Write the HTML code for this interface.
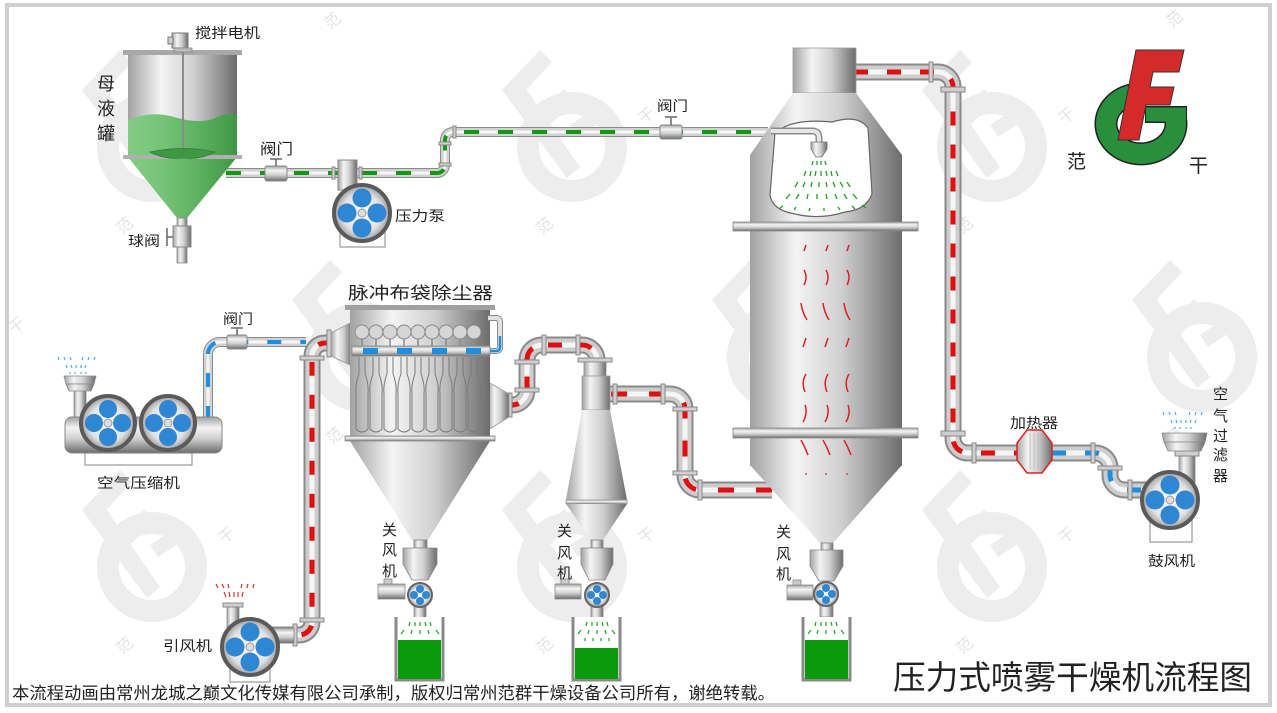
<!DOCTYPE html>
<html><head><meta charset="utf-8"><style>
html,body{margin:0;padding:0;background:#fff;}
svg{display:block;}
text{font-family:"Liberation Sans","Noto Sans CJK SC",sans-serif;fill:#222;}
text.w{fill:#e4e4e4;font-size:16px;}
.po{fill:none;stroke:#8a8a8a;stroke-width:17}
.pm{fill:none;stroke:#cdcdcd;stroke-width:13}
.ph{fill:none;stroke:#f6f6f6;stroke-width:5}
.to{fill:none;stroke:#8a8a8a;stroke-width:10}
.tm{fill:none;stroke:#d2d2d2;stroke-width:8}
.th{fill:none;stroke:#f7f7f7;stroke-width:3}
.fl{fill:#cfcfcf;stroke:#888;stroke-width:1}
</style></head><body>
<svg width="1277" height="713" viewBox="0 0 1277 713" xmlns="http://www.w3.org/2000/svg">
<defs>
<linearGradient id="vH" x1="0" y1="0" x2="1" y2="0">
<stop offset="0" stop-color="#a2a2a2"/><stop offset="0.3" stop-color="#f4f4f4"/><stop offset="0.6" stop-color="#d0d0d0"/><stop offset="1" stop-color="#6c6c6c"/>
</linearGradient>
<linearGradient id="hV" x1="0" y1="0" x2="0" y2="1">
<stop offset="0" stop-color="#a2a2a2"/><stop offset="0.3" stop-color="#f4f4f4"/><stop offset="0.6" stop-color="#d0d0d0"/><stop offset="1" stop-color="#6c6c6c"/>
</linearGradient>
<radialGradient id="fanG" cx="0.5" cy="0.5" r="0.5">
<stop offset="0" stop-color="#ffffff"/><stop offset="0.7" stop-color="#e2e2e2"/><stop offset="1" stop-color="#9a9a9a"/>
</radialGradient>
<linearGradient id="liq" x1="0" y1="0" x2="1" y2="0">
<stop offset="0" stop-color="#80d080"/><stop offset="1" stop-color="#3c9c42"/>
</linearGradient>
<g id="wm">
<circle cx="0" cy="0" r="44" fill="none" stroke="#ededed" stroke-width="22"/>
<g fill="#ededed">
<polygon points="-70,-57 -32,-97 -20,-85 -57,-45"/>
<polygon points="-70,-57 -52,-67 8,20 -5,31"/>
<polygon points="-42,-24 -8,-58 3,-47 -31,-13"/>
<polygon points="-2,-22 28,-42 36,-30 6,-10"/>
</g>
</g>
<path id="pA" d="M854,72 H938 A15,15 0 0 1 953,87 V438 A15,15 0 0 0 968,453 H1017"/>
<path id="pBl" d="M1052,453 H1095 A15,15 0 0 1 1110,468 V475 A15,15 0 0 0 1125,490 H1148"/>
<path id="pB" d="M772,490 H700 A15,15 0 0 1 685,475 V409 A15,15 0 0 0 670,394 H609"/>
<path id="pC" d="M505,405 H512 A15,15 0 0 0 527,390 V360 A15,15 0 0 1 542,345 H582 A15,15 0 0 1 597,360 V366"/>
<path id="pD" d="M332,343 H325 A13,13 0 0 0 312,356 V622 A13,13 0 0 1 299,635 H268"/>
<path id="pAir" d="M208,420 V354 A12,12 0 0 1 220,342 H306"/>
<path id="pG" d="M226,173 H437 A8,8 0 0 0 445,165 V140 A8,8 0 0 1 453,132 H768"/>
</defs>

<!-- watermarks -->
<use href="#wm" transform="translate(152,147)"/>
<use href="#wm" transform="translate(572,147)"/>
<use href="#wm" transform="translate(992,147)"/>
<use href="#wm" transform="translate(-58,357)"/>
<use href="#wm" transform="translate(362,357)"/>
<use href="#wm" transform="translate(782,357)"/>
<use href="#wm" transform="translate(1202,357)"/>
<use href="#wm" transform="translate(152,567)"/>
<use href="#wm" transform="translate(572,567)"/>
<use href="#wm" transform="translate(992,567)"/>
<text class="w" transform="translate(122,235) rotate(-40)">范</text>
<text class="w" transform="translate(224,125) rotate(-40)">干</text>
<text class="w" transform="translate(542,235) rotate(-40)">范</text>
<text class="w" transform="translate(644,125) rotate(-40)">干</text>
<text class="w" transform="translate(962,235) rotate(-40)">范</text>
<text class="w" transform="translate(1064,125) rotate(-40)">干</text>
<text class="w" transform="translate(14,335) rotate(-40)">干</text>
<text class="w" transform="translate(332,445) rotate(-40)">范</text>
<text class="w" transform="translate(434,335) rotate(-40)">干</text>
<text class="w" transform="translate(752,445) rotate(-40)">范</text>
<text class="w" transform="translate(854,335) rotate(-40)">干</text>
<text class="w" transform="translate(1172,445) rotate(-40)">范</text>
<text class="w" transform="translate(122,655) rotate(-40)">范</text>
<text class="w" transform="translate(224,545) rotate(-40)">干</text>
<text class="w" transform="translate(542,655) rotate(-40)">范</text>
<text class="w" transform="translate(644,545) rotate(-40)">干</text>
<text class="w" transform="translate(962,655) rotate(-40)">范</text>
<text class="w" transform="translate(1064,545) rotate(-40)">干</text>
<text class="w" transform="translate(330,30) rotate(-40)">范</text>
<text class="w" transform="translate(1172,28) rotate(-40)">范</text>

<!-- frame -->
<rect x="7" y="5" width="1263" height="700" fill="none" stroke="#d0d0d0" stroke-width="4"/>

<!-- ===== PIPES ===== -->
<use href="#pA" class="po"/><use href="#pA" class="pm"/><use href="#pA" class="ph"/>
<use href="#pA" fill="none" stroke="#e01010" stroke-width="5" stroke-dasharray="14 19"/>
<use href="#pBl" class="po"/><use href="#pBl" class="pm"/><use href="#pBl" class="ph"/>
<use href="#pBl" fill="none" stroke="#1e8ee0" stroke-width="5" stroke-dasharray="14 19"/>
<use href="#pB" class="po"/><use href="#pB" class="pm"/><use href="#pB" class="ph"/>
<use href="#pB" fill="none" stroke="#e01010" stroke-width="5" stroke-dasharray="16 22"/>
<use href="#pC" class="po"/><use href="#pC" class="pm"/><use href="#pC" class="ph"/>
<use href="#pC" fill="none" stroke="#e01010" stroke-width="5" stroke-dasharray="14 16"/>
<use href="#pAir" class="to"/><use href="#pAir" class="tm"/><use href="#pAir" class="th"/>
<use href="#pAir" fill="none" stroke="#1e8ee0" stroke-width="4" stroke-dasharray="14 19"/>
<use href="#pD" class="po"/><use href="#pD" class="pm"/><use href="#pD" class="ph"/>
<use href="#pD" fill="none" stroke="#e01010" stroke-width="5" stroke-dasharray="14 19"/>
<use href="#pG" class="to"/><use href="#pG" class="tm"/><use href="#pG" class="th"/>
<use href="#pG" fill="none" stroke="#119911" stroke-width="4" stroke-dasharray="15 19"/>

<!-- flanges -->
<rect class="fl" x="929" y="62" width="4" height="20"/>
<rect class="fl" x="941" y="87" width="24" height="5"/>
<rect class="fl" x="941" y="431" width="24" height="5"/>
<rect class="fl" x="972" y="443" width="4" height="20"/>
<rect class="fl" x="1091" y="443" width="4" height="20"/>
<rect class="fl" x="1098" y="466" width="24" height="4"/>
<rect class="fl" x="1128" y="480" width="4" height="20"/>
<rect class="fl" x="698" y="480" width="4" height="20"/>
<rect class="fl" x="673" y="471" width="24" height="4"/>
<rect class="fl" x="673" y="407" width="24" height="4"/>
<rect class="fl" x="661" y="384" width="4" height="20"/>
<rect class="fl" x="613" y="384" width="4" height="20"/>
<rect class="fl" x="508" y="393" width="4" height="24"/>
<rect class="fl" x="515" y="388" width="24" height="4"/>
<rect class="fl" x="515" y="360" width="24" height="4"/>
<rect class="fl" x="542" y="335" width="4" height="20"/>
<rect class="fl" x="576" y="335" width="4" height="20"/>
<rect class="fl" x="327" y="330" width="4" height="27"/>
<rect class="fl" x="300" y="356" width="24" height="4"/>
<rect class="fl" x="300" y="618" width="24" height="4"/>
<rect class="fl" x="293" y="624" width="4" height="22"/>
<rect class="fl" x="439" y="142" width="12" height="3"/>
<rect class="fl" x="439" y="163" width="12" height="3"/>
<rect class="fl" x="453" y="126" width="3" height="12"/>

<!-- ===== MOTHER LIQUOR TANK ===== -->
<rect x="128" y="53" width="109" height="104" fill="url(#vH)"/>
<polygon points="128,157 237,157 187,218 177,218" fill="url(#vH)"/>
<path d="M128,120 Q150,111 170,116 Q200,125 215,118 Q228,112 237,115 L237,157 L187,218 L177,218 L128,157 Z" fill="url(#liq)" opacity="0.92"/>
<rect x="123" y="50" width="119" height="5" fill="#a8a8a8"/>
<rect x="123" y="155" width="119" height="4" fill="#b0b0b0"/>
<rect x="172" y="33" width="16" height="15" fill="url(#vH)" stroke="#777" stroke-width="1"/>
<rect x="168" y="37" width="5" height="7" fill="#ccc" stroke="#777" stroke-width="1"/>
<rect x="174" y="48" width="18" height="4" fill="#bbb" stroke="#888" stroke-width="0.8"/>
<line x1="183" y1="52" x2="183" y2="157" stroke="#8a8a8a" stroke-width="2"/>
<path d="M150,152 Q183,145 215,152 Q200,160 183,158 Q165,160 150,152 Z" fill="#3d9a42" stroke="#2d7a32" stroke-width="0.8"/>
<rect x="177" y="218" width="10" height="45" fill="url(#vH)" stroke="#888" stroke-width="0.8"/>
<rect x="173" y="226" width="18" height="21" fill="url(#vH)" stroke="#888" stroke-width="1"/>
<line x1="167" y1="228" x2="167" y2="246" stroke="#666" stroke-width="1.5"/>
<line x1="167" y1="237" x2="173" y2="237" stroke="#666" stroke-width="1.5"/>

<!-- valve on lower green pipe -->
<rect x="265" y="166" width="22" height="15" fill="url(#hV)" stroke="#888" stroke-width="1" rx="2"/>
<line x1="276" y1="166" x2="276" y2="159" stroke="#666" stroke-width="1.5"/>
<line x1="270" y1="159" x2="282" y2="159" stroke="#666" stroke-width="1.5"/>

<!-- pressure pump -->
<rect x="340" y="225" width="45" height="22" fill="#fff" stroke="#999" stroke-width="1.2"/>
<rect x="338" y="160" width="19" height="30" fill="url(#vH)" stroke="#888" stroke-width="1"/>
<rect class="fl" x="332" y="167" width="3" height="12"/>
<rect class="fl" x="359" y="167" width="3" height="12"/>
<circle cx="362" cy="213" r="28" fill="url(#fanG)" stroke="#5a5a5a" stroke-width="4"/>
<circle cx="362" cy="198" r="9.5" fill="#2f87d3"/><circle cx="377" cy="213" r="9.5" fill="#2f87d3"/>
<circle cx="362" cy="228" r="9.5" fill="#2f87d3"/><circle cx="347" cy="213" r="9.5" fill="#2f87d3"/>
<circle cx="362" cy="213" r="4" fill="#ddd" stroke="#999" stroke-width="1"/>

<!-- valve on upper green pipe -->
<rect x="660" y="125" width="22" height="14" fill="url(#hV)" stroke="#888" stroke-width="1" rx="2"/>
<line x1="671" y1="125" x2="671" y2="118" stroke="#666" stroke-width="1.5"/>
<line x1="665" y1="117" x2="677" y2="117" stroke="#666" stroke-width="1.5"/>

<!-- ===== SPRAY TOWER ===== -->
<rect x="793" y="48" width="63" height="45" fill="url(#vH)" stroke="#999" stroke-width="0.8"/>
<polygon points="793,93 856,93 902,155 750,155" fill="url(#vH)"/>
<rect x="750" y="155" width="152" height="69" fill="url(#vH)"/>
<rect x="750" y="231" width="152" height="199" fill="url(#vH)"/>
<rect x="750" y="437" width="152" height="29" fill="url(#vH)"/>
<polygon points="750,465 902,465 833,543 820,543" fill="url(#vH)"/>
<rect x="733" y="222" width="185" height="9" fill="url(#hV)" stroke="#888" stroke-width="0.8"/>
<rect x="733" y="428" width="185" height="10" fill="url(#hV)" stroke="#888" stroke-width="0.8"/>
<path d="M775,133 Q792,118 832,122 Q858,114 868,128 L872,194 Q866,210 845,212 Q820,220 795,214 Q772,210 770,195 Z" fill="#fff" stroke="#666" stroke-width="1.2"/>
<path d="M771,131 H812 Q819,131 819,138 V142" fill="none" stroke="#8a8a8a" stroke-width="7"/>
<path d="M771,131 H812 Q819,131 819,138 V142" fill="none" stroke="#e6e6e6" stroke-width="4"/>
<polygon points="811,142 827,142 827,149 822,157 816,157 811,149" fill="url(#vH)" stroke="#777" stroke-width="0.8"/>
<g stroke="#22a022" stroke-width="1.3">
<line x1="813" y1="161" x2="812" y2="165"/><line x1="817" y1="161" x2="817" y2="165"/><line x1="821" y1="161" x2="821" y2="165"/><line x1="825" y1="161" x2="826" y2="165"/>
<line x1="806" y1="171" x2="804" y2="176"/><line x1="811" y1="171" x2="810" y2="176"/><line x1="816" y1="171" x2="815" y2="176"/><line x1="821" y1="171" x2="821" y2="176"/><line x1="826" y1="171" x2="827" y2="176"/><line x1="831" y1="171" x2="832" y2="176"/><line x1="836" y1="171" x2="838" y2="176"/>
<line x1="798" y1="182" x2="795" y2="187"/><line x1="805" y1="182" x2="803" y2="187"/><line x1="812" y1="182" x2="811" y2="187"/><line x1="819" y1="182" x2="819" y2="187"/><line x1="826" y1="182" x2="827" y2="187"/><line x1="833" y1="182" x2="835" y2="187"/><line x1="840" y1="182" x2="843" y2="187"/><line x1="847" y1="182" x2="850" y2="187"/>
<line x1="790" y1="194" x2="786" y2="199"/><line x1="799" y1="194" x2="796" y2="199"/><line x1="808" y1="194" x2="807" y2="199"/><line x1="817" y1="194" x2="817" y2="199"/><line x1="826" y1="194" x2="827" y2="199"/><line x1="835" y1="194" x2="837" y2="199"/><line x1="844" y1="194" x2="847" y2="199"/><line x1="853" y1="194" x2="857" y2="199"/>
<line x1="783" y1="206" x2="779" y2="209"/><line x1="796" y1="207" x2="794" y2="210"/><line x1="810" y1="208" x2="809" y2="211"/><line x1="824" y1="208" x2="824" y2="211"/><line x1="838" y1="207" x2="840" y2="210"/><line x1="852" y1="206" x2="855" y2="209"/><line x1="862" y1="205" x2="866" y2="208"/>
</g>
<g fill="none" stroke="#e02020" stroke-width="1.5">
<path d="M804,251 L806,245"/><path d="M826,251 L828,245"/><path d="M847,251 L849,245"/>
<path d="M804,270 Q808,277 804,285"/><path d="M826,270 Q830,277 826,285"/><path d="M847,270 Q851,277 847,285"/>
<path d="M801,303 Q802,312 807,320"/><path d="M823,303 Q824,312 829,320"/><path d="M844,303 Q845,312 850,320"/>
<path d="M803,347 L806,338"/><path d="M825,347 L828,338"/><path d="M846,347 L849,338"/>
<path d="M806,374 Q801,382 805,392"/><path d="M828,374 Q823,382 827,392"/><path d="M849,374 Q844,382 848,392"/>
<path d="M805,405 Q808,413 803,422"/><path d="M827,405 Q830,413 825,422"/><path d="M848,405 Q851,413 846,422"/>
<path d="M801,440 Q805,447 808,455"/><path d="M823,440 Q827,447 830,455"/><path d="M844,440 Q848,447 851,455"/>
</g>
<g fill="#e02020"><circle cx="806" cy="474" r="0.9"/><circle cx="826" cy="474" r="0.9"/><circle cx="847" cy="474" r="0.9"/></g>

<!-- tower rotary valve -->
<rect x="821" y="543" width="12" height="7" fill="url(#vH)" stroke="#888" stroke-width="0.8"/>
<path d="M810,550 H843 V566 L834,581 H819 L810,566 Z" fill="url(#vH)" stroke="#888" stroke-width="0.8"/>
<rect x="787" y="585" width="26" height="15" fill="url(#hV)" stroke="#888" stroke-width="0.8"/>
<rect x="793" y="580" width="8" height="5" fill="#ccc" stroke="#888" stroke-width="0.8"/>
<rect x="820" y="605" width="13" height="12" fill="url(#vH)" stroke="#888" stroke-width="0.8"/>
<circle cx="826" cy="594" r="12" fill="url(#fanG)" stroke="#666" stroke-width="2"/>
<circle cx="826" cy="588" r="4" fill="#2f87d3"/><circle cx="832" cy="594" r="4" fill="#2f87d3"/><circle cx="826" cy="600" r="4" fill="#2f87d3"/><circle cx="820" cy="594" r="4" fill="#2f87d3"/>
<circle cx="826" cy="594" r="1.6" fill="#fff"/>
<path d="M803,617 V680 H850 V617" fill="#fff" stroke="#8a8a8a" stroke-width="3"/>
<rect x="805" y="640" width="43" height="39" fill="#0b9a0b"/>
<g stroke="#22a022" stroke-width="1.2"><line x1="816" y1="622" x2="815" y2="626"/><line x1="821" y1="622" x2="821" y2="626"/><line x1="826" y1="622" x2="826" y2="626"/><line x1="831" y1="622" x2="832" y2="626"/><line x1="836" y1="622" x2="837" y2="626"/>
<line x1="811" y1="630" x2="808" y2="634"/><line x1="818" y1="630" x2="817" y2="634"/><line x1="826" y1="630" x2="826" y2="634"/><line x1="834" y1="630" x2="835" y2="634"/><line x1="841" y1="630" x2="844" y2="634"/></g>

<!-- ===== CYCLONE ===== -->
<rect x="578" y="358" width="34" height="4" class="fl"/>
<rect x="584" y="362" width="22" height="15" fill="url(#vH)" stroke="#888" stroke-width="0.8"/>
<rect x="582" y="376" width="28" height="34" fill="url(#vH)" stroke="#999" stroke-width="0.8"/>
<polygon points="582,410 610,410 627,500 566,500" fill="url(#vH)"/>
<rect x="566" y="500" width="61" height="4" fill="url(#hV)" stroke="#999" stroke-width="0.8"/>
<polygon points="566,504 627,504 603,540 591,540" fill="url(#vH)"/>
<rect x="591" y="540" width="12" height="8" fill="url(#vH)" stroke="#888" stroke-width="0.8"/>
<path d="M581,548 H613 V564 L605,580 H589 L581,564 Z" fill="url(#vH)" stroke="#888" stroke-width="0.8"/>
<rect x="555" y="584" width="26" height="15" fill="url(#hV)" stroke="#888" stroke-width="0.8"/>
<rect x="561" y="579" width="8" height="5" fill="#ccc" stroke="#888" stroke-width="0.8"/>
<rect x="591" y="606" width="12" height="12" fill="url(#vH)" stroke="#888" stroke-width="0.8"/>
<circle cx="597" cy="595" r="12" fill="url(#fanG)" stroke="#666" stroke-width="2"/>
<circle cx="597" cy="589" r="4" fill="#2f87d3"/><circle cx="603" cy="595" r="4" fill="#2f87d3"/><circle cx="597" cy="601" r="4" fill="#2f87d3"/><circle cx="591" cy="595" r="4" fill="#2f87d3"/>
<circle cx="597" cy="595" r="1.6" fill="#fff"/>
<path d="M573,617 V680 H620 V617" fill="#fff" stroke="#8a8a8a" stroke-width="3"/>
<rect x="575" y="648" width="43" height="31" fill="#0b9a0b"/>
<g stroke="#22a022" stroke-width="1.2"><line x1="587" y1="622" x2="586" y2="626"/><line x1="592" y1="622" x2="592" y2="626"/><line x1="597" y1="622" x2="597" y2="626"/><line x1="602" y1="622" x2="603" y2="626"/><line x1="607" y1="622" x2="608" y2="626"/>
<line x1="581" y1="630" x2="578" y2="634"/><line x1="589" y1="630" x2="588" y2="634"/><line x1="597" y1="630" x2="597" y2="634"/><line x1="605" y1="630" x2="606" y2="634"/><line x1="612" y1="630" x2="615" y2="634"/>
<line x1="585" y1="638" x2="585" y2="641"/><line x1="593" y1="638" x2="593" y2="641"/><line x1="601" y1="638" x2="601" y2="641"/><line x1="609" y1="638" x2="609" y2="641"/></g>

<!-- ===== PULSE BAG DUST COLLECTOR ===== -->
<polygon points="331,333 352,322 352,366 331,356" fill="url(#vH)" stroke="#999" stroke-width="0.8"/>
<polygon points="488,382 509,394 509,417 488,430" fill="url(#vH)" stroke="#999" stroke-width="0.8"/>
<rect x="350" y="309" width="140" height="129" fill="url(#vH)"/>
<rect x="345" y="305" width="150" height="5" fill="#a0a0a0"/>
<polygon points="350,441 490,441 428,540 412,540" fill="url(#vH)"/>
<rect x="345" y="436" width="150" height="5" fill="url(#hV)" stroke="#888" stroke-width="0.8"/>
<g fill="none" stroke="#7a7a7a" stroke-width="1">
<path d="M359,357 V374 Q355,384 356,394 V429 Q362,435 368,429 V394 Q369,384 365,374 V357"/>
<path d="M373,357 V374 Q369,384 370,394 V429 Q376,435 382,429 V394 Q383,384 379,374 V357"/>
<path d="M387,357 V374 Q383,384 384,394 V429 Q390,435 396,429 V394 Q397,384 393,374 V357"/>
<path d="M401,357 V374 Q397,384 398,394 V429 Q404,435 410,429 V394 Q411,384 407,374 V357"/>
<path d="M415,357 V374 Q411,384 412,394 V429 Q418,435 424,429 V394 Q425,384 421,374 V357"/>
<path d="M429,357 V374 Q425,384 426,394 V429 Q432,435 438,429 V394 Q439,384 435,374 V357"/>
<path d="M443,357 V374 Q439,384 440,394 V429 Q446,435 452,429 V394 Q453,384 449,374 V357"/>
<path d="M457,357 V374 Q453,384 454,394 V429 Q460,435 466,429 V394 Q467,384 463,374 V357"/>
<path d="M471,357 V374 Q467,384 468,394 V429 Q474,435 480,429 V394 Q481,384 477,374 V357"/>
</g>
<g stroke="#8a8a8a" stroke-width="1.5">
<line x1="362" y1="338" x2="362" y2="346"/><line x1="376" y1="338" x2="376" y2="346"/><line x1="390" y1="338" x2="390" y2="346"/><line x1="404" y1="338" x2="404" y2="346"/><line x1="418" y1="338" x2="418" y2="346"/><line x1="432" y1="338" x2="432" y2="346"/><line x1="446" y1="338" x2="446" y2="346"/><line x1="460" y1="338" x2="460" y2="346"/><line x1="474" y1="338" x2="474" y2="346"/>
</g>
<g fill="#d6d6d6" stroke="#888" stroke-width="1">
<circle cx="362" cy="332" r="7"/><circle cx="376" cy="332" r="7"/><circle cx="390" cy="332" r="7"/><circle cx="404" cy="332" r="7"/><circle cx="418" cy="332" r="7"/><circle cx="432" cy="332" r="7"/><circle cx="446" cy="332" r="7"/><circle cx="460" cy="332" r="7"/><circle cx="474" cy="332" r="7"/>
</g>
<path d="M488,351 H496 Q500,351 500,347 V322 Q500,318 496,318 H488" fill="none" stroke="#8a8a8a" stroke-width="6"/>
<path d="M488,351 H496 Q500,351 500,347 V322 Q500,318 496,318 H488" fill="none" stroke="#e2e2e2" stroke-width="4"/>
<path d="M490,351 H496 Q500,351 500,347 V336" fill="none" stroke="#1e8ee0" stroke-width="2.5"/>
<rect x="352" y="346" width="138" height="10" fill="url(#hV)" stroke="#888" stroke-width="0.8"/>
<g fill="#1e8ee0"><rect x="363" y="348" width="15" height="6"/><rect x="397" y="348" width="15" height="6"/><rect x="432" y="348" width="15" height="6"/><rect x="466" y="348" width="15" height="6"/></g>

<!-- dust collector rotary valve -->
<rect x="414" y="540" width="13" height="8" fill="url(#vH)" stroke="#888" stroke-width="0.8"/>
<path d="M403,548 H437 V564 L428,580 H412 L403,564 Z" fill="url(#vH)" stroke="#888" stroke-width="0.8"/>
<rect x="378" y="584" width="27" height="15" fill="url(#hV)" stroke="#888" stroke-width="0.8"/>
<rect x="384" y="579" width="8" height="5" fill="#ccc" stroke="#888" stroke-width="0.8"/>
<rect x="414" y="606" width="12" height="12" fill="url(#vH)" stroke="#888" stroke-width="0.8"/>
<circle cx="420" cy="595" r="12" fill="url(#fanG)" stroke="#666" stroke-width="2"/>
<circle cx="420" cy="589" r="4" fill="#2f87d3"/><circle cx="426" cy="595" r="4" fill="#2f87d3"/><circle cx="420" cy="601" r="4" fill="#2f87d3"/><circle cx="414" cy="595" r="4" fill="#2f87d3"/>
<circle cx="420" cy="595" r="1.6" fill="#fff"/>
<path d="M396,617 V680 H443 V617" fill="#fff" stroke="#8a8a8a" stroke-width="3"/>
<rect x="398" y="640" width="43" height="39" fill="#0b9a0b"/>
<g stroke="#22a022" stroke-width="1.2"><line x1="410" y1="622" x2="409" y2="626"/><line x1="415" y1="622" x2="415" y2="626"/><line x1="420" y1="622" x2="420" y2="626"/><line x1="425" y1="622" x2="426" y2="626"/><line x1="430" y1="622" x2="431" y2="626"/>
<line x1="404" y1="630" x2="401" y2="634"/><line x1="412" y1="630" x2="411" y2="634"/><line x1="420" y1="630" x2="420" y2="634"/><line x1="428" y1="630" x2="429" y2="634"/><line x1="436" y1="630" x2="439" y2="634"/></g>

<!-- ===== AIR COMPRESSOR ===== -->
<rect x="85" y="453" width="107" height="12" fill="#fff" stroke="#999" stroke-width="1.2"/>
<rect x="74" y="386" width="12" height="34" fill="url(#vH)" stroke="#888" stroke-width="0.8"/>
<rect x="65" y="417" width="157" height="36" rx="7" fill="url(#hV)" stroke="#888" stroke-width="1"/>
<path d="M64,376 H96 L94,384 H66 Z" fill="url(#vH)" stroke="#888" stroke-width="0.8"/>
<path d="M66,384 H94 L91,391 H69 Z" fill="url(#vH)" stroke="#888" stroke-width="0.8"/>
<g stroke="#4aa0e0" stroke-width="1.1">
<line x1="58" y1="357" x2="59" y2="360"/><line x1="64" y1="357" x2="65" y2="360"/><line x1="70" y1="357" x2="71" y2="360"/><line x1="83" y1="357" x2="82" y2="360"/><line x1="89" y1="357" x2="88" y2="360"/><line x1="95" y1="357" x2="94" y2="360"/>
<line x1="66" y1="365" x2="67" y2="368"/><line x1="71" y1="365" x2="72" y2="368"/><line x1="76" y1="365" x2="76" y2="368"/><line x1="81" y1="365" x2="81" y2="368"/><line x1="86" y1="365" x2="85" y2="368"/>
<line x1="70" y1="372" x2="70" y2="374"/><line x1="75" y1="372" x2="75" y2="374"/><line x1="81" y1="372" x2="81" y2="374"/><line x1="86" y1="372" x2="86" y2="374"/>
</g>
<circle cx="108" cy="423" r="27" fill="url(#fanG)" stroke="#5a5a5a" stroke-width="4"/>
<circle cx="108" cy="409" r="9" fill="#2f87d3"/><circle cx="122" cy="423" r="9" fill="#2f87d3"/><circle cx="108" cy="437" r="9" fill="#2f87d3"/><circle cx="94" cy="423" r="9" fill="#2f87d3"/>
<circle cx="108" cy="423" r="4" fill="#ddd" stroke="#999" stroke-width="1"/>
<circle cx="168" cy="423" r="27" fill="url(#fanG)" stroke="#5a5a5a" stroke-width="4"/>
<circle cx="168" cy="409" r="9" fill="#2f87d3"/><circle cx="182" cy="423" r="9" fill="#2f87d3"/><circle cx="168" cy="437" r="9" fill="#2f87d3"/><circle cx="154" cy="423" r="9" fill="#2f87d3"/>
<circle cx="168" cy="423" r="4" fill="#ddd" stroke="#999" stroke-width="1"/>

<!-- valve on air pipe -->
<rect x="227" y="335" width="20" height="14" fill="url(#hV)" stroke="#888" stroke-width="1" rx="2"/>
<line x1="237" y1="335" x2="237" y2="329" stroke="#666" stroke-width="1.5"/>
<line x1="231" y1="328" x2="243" y2="328" stroke="#666" stroke-width="1.5"/>

<!-- ===== INDUCED FAN ===== -->
<rect x="230" y="665" width="40" height="17" fill="#fff" stroke="#999" stroke-width="1.2"/>
<rect x="227" y="605" width="12" height="22" fill="url(#vH)" stroke="#888" stroke-width="0.8"/>
<rect x="223" y="603" width="20" height="4" class="fl"/>
<rect x="262" y="628" width="32" height="15" fill="url(#hV)" stroke="#888" stroke-width="0.8"/>
<g stroke="#e02020" stroke-width="1.1">
<line x1="216" y1="584" x2="218" y2="588"/><line x1="222" y1="584" x2="224" y2="588"/><line x1="228" y1="584" x2="229" y2="588"/><line x1="242" y1="584" x2="241" y2="588"/><line x1="248" y1="584" x2="247" y2="588"/><line x1="254" y1="584" x2="253" y2="588"/>
<line x1="224" y1="592" x2="226" y2="597"/><line x1="229" y1="592" x2="230" y2="597"/><line x1="234" y1="592" x2="234" y2="597"/><line x1="238" y1="592" x2="238" y2="597"/><line x1="243" y1="592" x2="242" y2="597"/>
</g>
<circle cx="250" cy="647" r="28" fill="url(#fanG)" stroke="#5a5a5a" stroke-width="4"/>
<circle cx="250" cy="632" r="9.5" fill="#2f87d3"/><circle cx="265" cy="647" r="9.5" fill="#2f87d3"/><circle cx="250" cy="662" r="9.5" fill="#2f87d3"/><circle cx="235" cy="647" r="9.5" fill="#2f87d3"/>
<circle cx="250" cy="647" r="4" fill="#ddd" stroke="#999" stroke-width="1"/>

<!-- ===== HEATER ===== -->
<polygon points="1027,430 1042,430 1052,443 1052,460 1042,473 1027,473 1017,460 1017,443" fill="url(#vH)" stroke="#e02020" stroke-width="1.5"/>
<g stroke="#b0b0b0" stroke-width="0.6"><line x1="1030" y1="433" x2="1030" y2="470"/><line x1="1034" y1="433" x2="1034" y2="470"/><line x1="1038" y1="433" x2="1038" y2="470"/><line x1="1042" y1="433" x2="1042" y2="470"/></g>

<!-- ===== BLOWER ===== -->
<rect x="1150" y="510" width="42" height="32" fill="#fff" stroke="#999" stroke-width="1.2"/>
<rect x="1179" y="455" width="16" height="28" fill="url(#vH)" stroke="#888" stroke-width="0.8"/>
<rect x="1175" y="451" width="24" height="5" class="fl"/>
<path d="M1162,433 H1207 L1205,442 H1164 Z" fill="url(#vH)" stroke="#888" stroke-width="0.8"/>
<path d="M1164,442 H1205 L1201,451 H1168 Z" fill="url(#vH)" stroke="#888" stroke-width="0.8"/>
<g stroke="#4aa0e0" stroke-width="1.1">
<line x1="1163" y1="412" x2="1164" y2="415"/><line x1="1169" y1="412" x2="1170" y2="415"/><line x1="1175" y1="412" x2="1176" y2="415"/><line x1="1190" y1="412" x2="1189" y2="415"/><line x1="1196" y1="412" x2="1195" y2="415"/><line x1="1202" y1="412" x2="1201" y2="415"/>
<line x1="1171" y1="420" x2="1172" y2="423"/><line x1="1176" y1="420" x2="1177" y2="423"/><line x1="1181" y1="420" x2="1181" y2="423"/><line x1="1186" y1="420" x2="1186" y2="423"/><line x1="1191" y1="420" x2="1190" y2="423"/><line x1="1196" y1="420" x2="1195" y2="423"/>
<line x1="1175" y1="427" x2="1175" y2="429"/><line x1="1180" y1="427" x2="1180" y2="429"/><line x1="1186" y1="427" x2="1186" y2="429"/><line x1="1191" y1="427" x2="1191" y2="429"/>
</g>
<circle cx="1170" cy="500" r="28" fill="url(#fanG)" stroke="#5a5a5a" stroke-width="4"/>
<circle cx="1170" cy="485" r="9.5" fill="#2f87d3"/><circle cx="1185" cy="500" r="9.5" fill="#2f87d3"/><circle cx="1170" cy="515" r="9.5" fill="#2f87d3"/><circle cx="1155" cy="500" r="9.5" fill="#2f87d3"/>
<circle cx="1170" cy="500" r="4" fill="#ddd" stroke="#999" stroke-width="1"/>

<!-- ===== LOGO ===== -->
<path d="M1138,94 A35,30 0 1 0 1175.5,119" fill="none" stroke="#222" stroke-width="23"/>
<rect x="1145" y="106" width="42" height="17" fill="#222"/>
<path d="M1138,94 A35,30 0 1 0 1175.5,119" fill="none" stroke="#2a8f3c" stroke-width="20"/>
<rect x="1146" y="107.5" width="40" height="14" fill="#2a8f3c"/>
<polygon points="1136,50 1184,50 1179,72 1153,72 1150,87 1174,87 1170,105 1146,105 1139,140 1118,140" fill="#d42a2a" stroke="#333" stroke-width="1"/>
<text x="1067" y="168" font-size="19">范</text>
<text x="1189" y="172" font-size="19">干</text>

<!-- ===== LABELS ===== -->
<text x="195" y="38" font-size="14" textLength="65" lengthAdjust="spacingAndGlyphs">搅拌电机</text>
<text x="97" y="90" font-size="18">母</text>
<text x="97" y="115" font-size="18">液</text>
<text x="97" y="140" font-size="18">罐</text>
<text x="260" y="154" font-size="15" textLength="33" lengthAdjust="spacingAndGlyphs">阀门</text>
<text x="128" y="246" font-size="14" textLength="32" lengthAdjust="spacingAndGlyphs">球阀</text>
<text x="395" y="221" font-size="14" textLength="50" lengthAdjust="spacingAndGlyphs">压力泵</text>
<text x="657" y="111" font-size="14" textLength="31" lengthAdjust="spacingAndGlyphs">阀门</text>
<text x="223" y="324" font-size="14" textLength="30" lengthAdjust="spacingAndGlyphs">阀门</text>
<text x="348" y="299" font-size="17" textLength="145" lengthAdjust="spacingAndGlyphs">脉冲布袋除尘器</text>
<text x="97" y="488" font-size="14" textLength="83" lengthAdjust="spacingAndGlyphs">空气压缩机</text>
<text x="163" y="651" font-size="14" textLength="49" lengthAdjust="spacingAndGlyphs">引风机</text>
<text x="382" y="535" font-size="15">关</text><text x="382" y="555" font-size="15">风</text><text x="382" y="576" font-size="15">机</text>
<text x="557" y="536" font-size="15">关</text><text x="557" y="558" font-size="15">风</text><text x="557" y="578" font-size="15">机</text>
<text x="776" y="537" font-size="15">关</text><text x="776" y="559" font-size="15">风</text><text x="776" y="579" font-size="15">机</text>
<text x="1010" y="428" font-size="14" textLength="48" lengthAdjust="spacingAndGlyphs">加热器</text>
<text x="1148" y="566" font-size="14" textLength="47" lengthAdjust="spacingAndGlyphs">鼓风机</text>
<text x="1213" y="399" font-size="15">空</text>
<text x="1213" y="421" font-size="15">气</text>
<text x="1213" y="441" font-size="15">过</text>
<text x="1213" y="460" font-size="15">滤</text>
<text x="1213" y="481" font-size="15">器</text>
<text x="12" y="699" font-size="17" textLength="763" lengthAdjust="spacingAndGlyphs">本流程动画由常州龙城之巅文化传媒有限公司承制，版权归常州范群干燥设备公司所有，谢绝转载。</text>
<text x="893" y="689" font-size="33" textLength="359" lengthAdjust="spacingAndGlyphs">压力式喷雾干燥机流程图</text>
</svg>
</body></html>
